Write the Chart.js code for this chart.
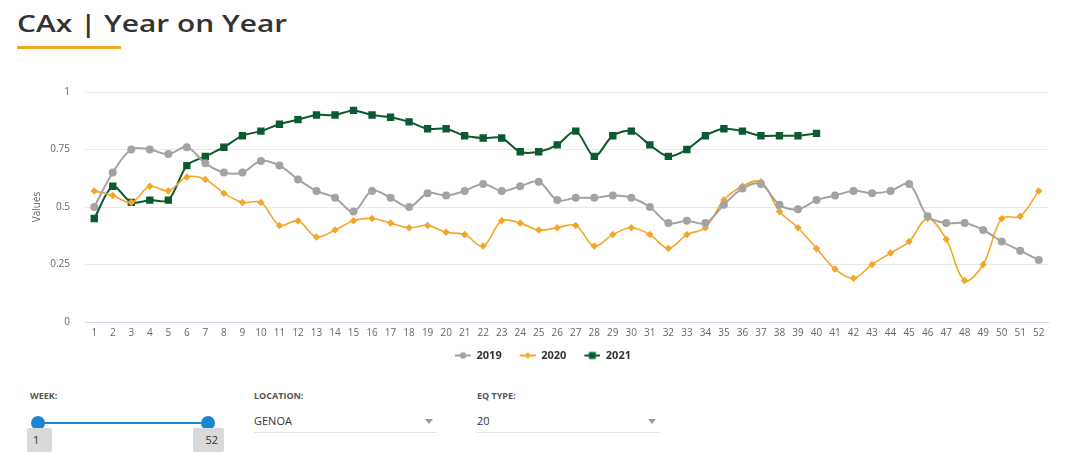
<!DOCTYPE html>
<html>
<head>
<meta charset="utf-8">
<script src="https://cdn.jsdelivr.net/npm/chart.js@4"></script>
<style>
  body { margin: 0; width: 1080px; height: 464px; background: #fff; font-family: "Open Sans", sans-serif; position: relative; overflow: hidden; }
  .titulo { position: absolute; left: 17px; top: 7px; font-size: 24px; font-weight: 600; color: #333; line-height: 32px; white-space: nowrap; transform: scaleX(1.245); transform-origin: left center; }
  .subrayado { position: absolute; left: 17px; top: 46px; width: 104px; height: 3px; background: #f5a623; }
  #caja { position: absolute; left: 0; top: 71px; width: 1080px; height: 300px; }
  .etq { position: absolute; top: 389px; font-size: 9px; font-weight: 700; color: #555; }
  .sel { position: absolute; top: 412px; height: 20px; border-bottom: 1px solid #e3e3e3; font-size: 11px; color: #333; line-height: 18px; }
  .sel .flecha { position: absolute; right: 4px; top: 7px; width: 0; height: 0; border-left: 4px solid transparent; border-right: 4px solid transparent; border-top: 5px solid #999; }
  .linea { position: absolute; left: 38px; top: 422px; width: 170px; height: 2px; background: #1a86d0; }
  .mango { position: absolute; top: 416px; width: 14px; height: 14px; border-radius: 50%; background: #1a86d0; }
  .num { position: absolute; top: 428px; height: 24px; background: #d9d9d9; border-radius: 2px; font-size: 11px; color: #333; line-height: 24px; padding: 0 6px; box-sizing: border-box; }
</style>
</head>
<body>
<div class="titulo">CAx | Year on Year</div>
<div class="subrayado"></div>
<div id="caja"><canvas id="graficoAnual"></canvas></div>

<div class="etq" style="left:30px">WEEK:</div>
<div class="linea"></div>
<div class="mango" style="left:31px"></div>
<div class="mango" style="left:201px"></div>
<div class="num" style="left:27px;width:25px">1</div>
<div class="num" style="left:193px;width:31px;text-align:right">52</div>

<div class="etq" style="left:254px">LOCATION:</div>
<div class="sel" style="left:254px;width:183px">GENOA<span class="flecha"></span></div>
<div class="etq" style="left:477px">EQ TYPE:</div>
<div class="sel" style="left:477px;width:183px">20<span class="flecha"></span></div>

<script>
const semanas = Array.from({length: 52}, (_, i) => String(i + 1));
const marcasY = [0, 0.25, 0.5, 0.75, 1];

const valores2019 = [0.50, 0.65, 0.75, 0.75, 0.73, 0.76, 0.69, 0.65, 0.65, 0.70,
  0.68, 0.62, 0.57, 0.54, 0.48, 0.57, 0.54, 0.50, 0.56, 0.55,
  0.57, 0.60, 0.57, 0.59, 0.61, 0.53, 0.54, 0.54, 0.55, 0.54,
  0.50, 0.43, 0.44, 0.43, 0.51, 0.58, 0.60, 0.51, 0.49, 0.53,
  0.55, 0.57, 0.56, 0.57, 0.60, 0.46, 0.43, 0.43, 0.40, 0.35,
  0.31, 0.27];
const valores2020 = [0.57, 0.55, 0.52, 0.59, 0.57, 0.63, 0.62, 0.56, 0.52, 0.52,
  0.42, 0.44, 0.37, 0.40, 0.44, 0.45, 0.43, 0.41, 0.42, 0.39,
  0.38, 0.33, 0.44, 0.43, 0.40, 0.41, 0.42, 0.33, 0.38, 0.41,
  0.38, 0.32, 0.38, 0.41, 0.53, 0.59, 0.61, 0.48, 0.41, 0.32,
  0.23, 0.19, 0.25, 0.30, 0.35, 0.45, 0.36, 0.18, 0.25, 0.45,
  0.46, 0.57];
const valores2021 = [0.45, 0.59, 0.52, 0.53, 0.53, 0.68, 0.72, 0.76, 0.81, 0.83,
  0.86, 0.88, 0.90, 0.90, 0.92, 0.90, 0.89, 0.87, 0.84, 0.84,
  0.81, 0.80, 0.80, 0.74, 0.74, 0.77, 0.83, 0.72, 0.81, 0.83,
  0.77, 0.72, 0.75, 0.81, 0.84, 0.83, 0.81, 0.81, 0.81, 0.82];

const gris = '#a3a3a3';
const naranja = '#f4a62a';
const verde = '#0b5a31';

// simbolo de leyenda: linea con el marcador
const simbolo = (color, forma) => {
    const c = document.createElement('canvas');
    c.width = 28; c.height = 10;
    const g = c.getContext('2d');
    g.strokeStyle = color; g.fillStyle = color; g.lineWidth = 2;
    g.beginPath(); g.moveTo(12, 5); g.lineTo(28, 5); g.stroke();
    if (forma === 'circulo') { g.beginPath(); g.arc(20, 5, 3.2, 0, Math.PI * 2); g.fill(); }
    if (forma === 'rombo') { g.beginPath(); g.moveTo(20, 1.8); g.lineTo(23.2, 5); g.lineTo(20, 8.2); g.lineTo(16.8, 5); g.closePath(); g.fill(); }
    if (forma === 'cuadro') { g.fillRect(16.5, 1.5, 7, 7); }
    return c;
};
const simbolos = [simbolo(gris, 'circulo'), simbolo(naranja, 'rombo'), simbolo(verde, 'cuadro')];

const ctx = document.getElementById('graficoAnual');
new Chart(ctx, {
    type: 'line',
    data: {
        labels: semanas,
        datasets: [{
            label: '2019',
            data: valores2019,
            borderColor: gris,
            backgroundColor: gris,
            borderWidth: 2,
            pointStyle: 'circle',
            pointRadius: 3,
            tension: 0.35
        }, {
            label: '2020',
            data: valores2020,
            borderColor: naranja,
            backgroundColor: naranja,
            borderWidth: 1.6,
            pointStyle: 'rectRot',
            pointRadius: 2.6,
            tension: 0.35
        }, {
            label: '2021',
            data: valores2021,
            borderColor: verde,
            backgroundColor: verde,
            borderWidth: 2,
            pointStyle: 'rect',
            pointRadius: 3.8,
            tension: 0.3
        }]
    },
    options: {
        responsive: true,
        maintainAspectRatio: false,
        animation: false,
        layout: { padding: { left: 26, right: 32, top: 0, bottom: 0 } },
        plugins: {
            tooltip: { enabled: false },
            legend: {
                position: 'bottom',
                labels: {
                    usePointStyle: true,
                    pointStyleWidth: 28,
                    padding: 6,
                    color: '#333',
                    font: { family: 'Open Sans', size: 11, weight: 'bold' },
                    generateLabels: (chart) => chart.data.datasets.map((d, i) => ({
                        text: d.label,
                        fontColor: '#333',
                        pointStyle: simbolos[i],
                        datasetIndex: i,
                        lineWidth: 0,
                        strokeStyle: 'transparent',
                        fillStyle: 'transparent'
                    }))
                }
            }
        },
        scales: {
            x: {
                offset: true,
                grid: { display: false, drawTicks: false },
                border: { display: true, color: '#ccd6eb' },
                ticks: {
                    autoSkip: false, maxRotation: 0, padding: 5,
                    color: '#666', font: { family: 'Open Sans', size: 10 }
                }
            },
            y: {
                min: 0,
                max: 1,
                afterBuildTicks: (eje) => { eje.ticks = marcasY.map(v => ({value: v})); },
                afterFit: (eje) => { eje.width = 59; },
                grid: { color: '#e8e8e8', drawTicks: false },
                border: { display: false },
                ticks: {
                    padding: 15,
                    color: '#666',
                    font: { family: 'Open Sans', size: 10 },
                    callback: (v) => String(v)
                },
                title: {
                    display: true,
                    text: 'Values',
                    color: '#666',
                    padding: { top: 5, bottom: 0 },
                    font: { family: 'Open Sans', size: 10 }
                }
            }
        }
    }
});
</script>
</body>
</html>
